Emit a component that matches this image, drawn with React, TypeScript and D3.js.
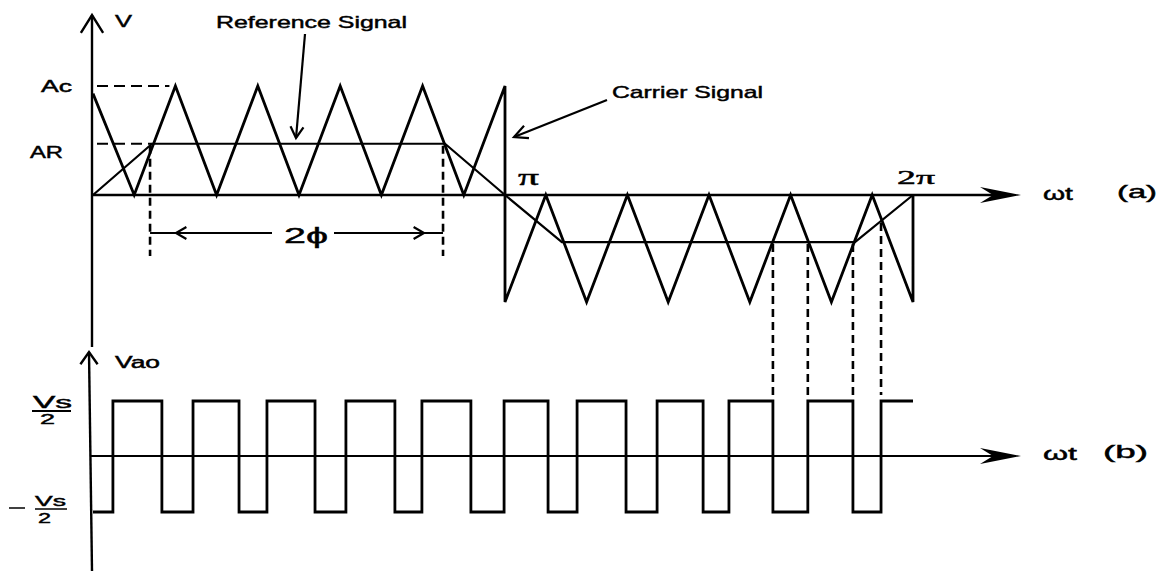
import React from "react";
import * as d3 from "d3";

const W = 1173;
const H = 571;

// Carrier triangle vertices: angle in electrical degrees, level in per-unit of Ac
const carrierDeg = [0, 18, 36, 54, 72, 90, 108, 126, 144, 162, 180, 180, 198, 216, 234, 252, 270, 288, 306, 324, 342, 360, 360];
const carrierLvl = [0.93, 0, 1, 0, 1, 0, 1, 0, 1, 0, 1, -1, 0, -1, 0, -1, 0, -1, 0, -1, 0, -1, 0];

// Trapezoidal reference signal
const refDeg = [0, 25.8, 153.8, 180, 205.1, 334.4, 360];
const refLvl = [0, 0.47, 0.47, 0, -0.44, -0.44, 0];

// Output switching instants (degrees); output starts at -Vs/2 and toggles at each edge
const pwmEdges = [8.7, 30.1, 43.7, 63.8, 76.0, 97.0, 110.5, 131.9, 143.7, 165.1, 179.6, 199.0, 211.8, 233.4, 247.1, 267.4, 278.8, 298.2, 313.6, 333.5, 345.9];
const pwmStartLevel = -1;

// Angle scale shared by both panels
const x = d3.scaleLinear().domain([0, 180, 360]).range([93, 505, 913]);
const yTop = d3.scaleLinear().domain([-1, 0, 1]).range([302, 195, 86]);
const yBot = d3.scaleLinear().domain([-1, 0, 1]).range([512, 456, 401]);
const refAt = d3.scaleLinear().domain(refDeg).range(refLvl);

const FONT = "'Liberation Sans', Arial, Helvetica, sans-serif";
const SERIF = "'Liberation Serif', 'DejaVu Serif', serif";

function chevron(tx: number, ty: number, angleDeg: number, len = 13, spread = 28) {
  // open arrowhead whose tip is (tx,ty), pointing along angleDeg
  const a = (angleDeg * Math.PI) / 180;
  const s = (spread * Math.PI) / 180;
  const b1x = tx - len * Math.cos(a - s);
  const b1y = ty - len * Math.sin(a - s);
  const b2x = tx - len * Math.cos(a + s);
  const b2y = ty - len * Math.sin(a + s);
  return `M${b1x},${b1y}L${tx},${ty}L${b2x},${b2y}`;
}

function axisArrow(tx: number, ty: number) {
  return `M${tx},${ty}L${tx - 41},${ty - 8}L${tx - 28},${ty}L${tx - 41},${ty + 8}Z`;
}

function T(props: any) {
  const { children, w, size = 17, family = FONT, ...rest } = props;
  return (
    <text
      {...rest}
      fontFamily={family}
      fontSize={size}
      fill="#000"
      stroke="#000"
      strokeWidth={0.45}
      textLength={w}
      lengthAdjust="spacingAndGlyphs"
    >
      {children}
    </text>
  );
}

export default function App() {
  const line = d3
    .line<[number, number]>()
    .x((d) => d[0])
    .y((d) => d[1]);

  const carrierPts: [number, number][] = carrierDeg.map((d, i) => [x(d), yTop(carrierLvl[i])]);
  const refPts: [number, number][] = refDeg.map((d, i) => [x(d), yTop(refLvl[i])]);

  const pwmPts: [number, number][] = [];
  let lvl = pwmStartLevel;
  pwmPts.push([x(0), yBot(lvl)]);
  pwmEdges.forEach((e) => {
    pwmPts.push([x(e), yBot(lvl)]);
    lvl = -lvl;
    pwmPts.push([x(e), yBot(lvl)]);
  });
  pwmPts.push([x(360), yBot(lvl)]);

  const projEdges = pwmEdges.slice(-4);

  const xStart = x(0);
  const xAxisEnd = 1021;

  return (
    <svg width={W} height={H} style={{ position: "absolute", left: 0, top: 0, background: "#fff" }}>
      <rect width={W} height={H} fill="#fff" />

      {/* ---------- top panel (a) ---------- */}
      {/* vertical axis */}
      <line x1={92} y1={15} x2={92} y2={347} stroke="#000" strokeWidth={2.4} />
      <path d={chevron(92, 15, -90, 21, 32)} fill="none" stroke="#000" strokeWidth={2.4} />
      <T x={115} y={27} w={17}>V</T>

      {/* horizontal axis */}
      <line x1={xStart} y1={yTop(0)} x2={xAxisEnd - 20} y2={yTop(0)} stroke="#000" strokeWidth={2.4} />
      <path d={axisArrow(xAxisEnd, yTop(0))} fill="#000" />
      <T x={1043} y={200} w={30} size={19}>ωt</T>
      <T x={1117} y={198} w={40} size={19}>(a)</T>

      {/* level markers */}
      <line x1={x(0) + 4} y1={yTop(1)} x2={x(36) - 6} y2={yTop(1)} stroke="#000" strokeWidth={2.2} strokeDasharray="11 6" />
      <line x1={x(0) + 4} y1={yTop(refLvl[1])} x2={x(refDeg[1])} y2={yTop(refLvl[1])} stroke="#000" strokeWidth={2.2} strokeDasharray="11 6" />
      <T x={41} y={92} w={31} size={16}>Ac</T>
      <T x={30} y={158} w={33} size={16}>AR</T>

      {/* reference and carrier */}
      <path d={line(refPts) || ""} fill="none" stroke="#000" strokeWidth={2.2} strokeLinejoin="round" />
      <path d={line(carrierPts) || ""} fill="none" stroke="#000" strokeWidth={2.8} strokeLinejoin="miter" />

      <T x={518} y={185} w={21} size={24} family={SERIF}>π</T>
      <T x={897} y={184} w={38} size={19} family={SERIF}>2π</T>

      {/* annotations */}
      <T x={216} y={28} w={191}>Reference Signal</T>
      <line x1={305} y1={34} x2={296} y2={138} stroke="#000" strokeWidth={2.2} />
      <path d={chevron(296, 138, 95, 13, 30)} fill="none" stroke="#000" strokeWidth={2.2} />

      <T x={612} y={98} w={151}>Carrier Signal</T>
      <line x1={607} y1={100} x2={514} y2={137} stroke="#000" strokeWidth={2.2} />
      <path d={chevron(514, 137, 158, 15, 26)} fill="none" stroke="#000" strokeWidth={2.2} />

      {/* 2φ span */}
      {[refDeg[1], refDeg[2]].map((d, i) => (
        <line
          key={"phi" + i}
          x1={x(d) - 2}
          y1={yTop(refLvl[1]) + 2}
          x2={x(d) - 2}
          y2={256}
          stroke="#000"
          strokeWidth={2.6}
          strokeDasharray="8 5"
        />
      ))}
      <line x1={x(refDeg[1]) - 2} y1={233} x2={272} y2={233} stroke="#000" strokeWidth={2} />
      <path d={chevron(176, 233, 180, 12, 30)} fill="none" stroke="#000" strokeWidth={2.2} />
      <line x1={334} y1={233} x2={x(refDeg[2]) - 2} y2={233} stroke="#000" strokeWidth={2} />
      <path d={chevron(424, 233, 0, 12, 30)} fill="none" stroke="#000" strokeWidth={2.2} />
      <T x={284} y={243} w={44} size={22}>2ϕ</T>

      {/* projection of switching instants */}
      {projEdges.map((e, i) => (
        <line
          key={"proj" + i}
          x1={x(e)}
          y1={yTop(refAt(e)) + 2}
          x2={x(e)}
          y2={yBot(1) - 6}
          stroke="#000"
          strokeWidth={2.6}
          strokeDasharray="8 5"
        />
      ))}

      {/* ---------- bottom panel (b) ---------- */}
      <line x1={89} y1={352} x2={92} y2={571} stroke="#000" strokeWidth={2.4} />
      <path d={chevron(89, 352, -90, 15, 35)} fill="none" stroke="#000" strokeWidth={2.4} />
      <T x={115} y={368} w={45} size={16}>Vao</T>

      <line x1={90} y1={yBot(0)} x2={xAxisEnd - 20} y2={yBot(0)} stroke="#000" strokeWidth={2.2} />
      <path d={axisArrow(xAxisEnd, yBot(0))} fill="#000" />
      <T x={1043} y={460} w={34} size={19}>ωt</T>
      <T x={1103} y={458} w={45} size={19}>(b)</T>

      {/* Vs/2 labels */}
      <T x={33} y={408} w={39} size={16}>Vs</T>
      <line x1={32} y1={411} x2={71} y2={411} stroke="#000" strokeWidth={1.8} />
      <T x={40} y={424} w={15} size={15}>2</T>
      <line x1={9} y1={508} x2={25} y2={508} stroke="#000" strokeWidth={1.5} />
      <T x={35} y={506} w={31} size={15}>Vs</T>
      <line x1={35} y1={509} x2={67} y2={509} stroke="#000" strokeWidth={1.5} />
      <T x={38} y={523} w={13} size={15}>2</T>

      {/* output waveform */}
      <path d={line(pwmPts) || ""} fill="none" stroke="#000" strokeWidth={2.8} strokeLinejoin="miter" />
    </svg>
  );
}
